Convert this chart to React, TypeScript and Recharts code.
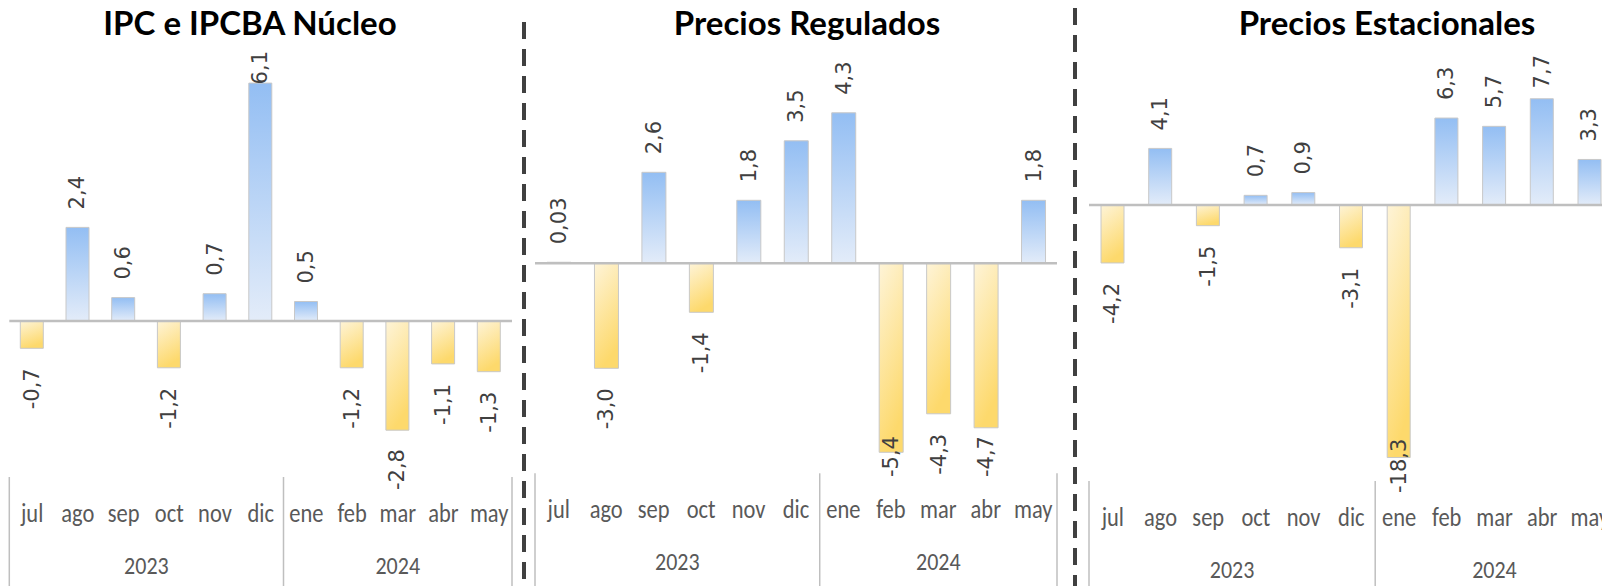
import { BarChart, Bar, XAxis, YAxis, Cell, LabelList, ReferenceLine } from "recharts";

const MONTHS = ["jul", "ago", "sep", "oct", "nov", "dic", "ene", "feb", "mar", "abr", "may"];
const YEARS = ["2023", "2023", "2023", "2023", "2023", "2023", "2024", "2024", "2024", "2024", "2024"];

const IPC_NUCLEO = [-0.7, 2.4, 0.6, -1.2, 0.7, 6.1, 0.5, -1.2, -2.8, -1.1, -1.3];
const REGULADOS = [0.03, -3.0, 2.6, -1.4, 1.8, 3.5, 4.3, -5.4, -4.3, -4.7, 1.8];
const ESTACIONALES = [-4.2, 4.1, -1.5, 0.7, 0.9, -3.1, -18.3, 6.3, 5.7, 7.7, 3.3];

const PANELS = [
  { id: "p1", title: "IPC e IPCBA Núcleo", values: IPC_NUCLEO, domain: [-4, 7], width: 530, left: 9.3, right: 512, top: 48, bottom: 477, barSize: 23, titleX: 250, labelTop: 51, labelBottom: 490 },
  { id: "p2", title: "Precios Regulados", values: REGULADOS, domain: [-6, 7], width: 1075, left: 535, right: 1057, top: 18.3, bottom: 473.3, barSize: 24, titleX: 807, labelTop: 20, labelBottom: 477 },
  { id: "p3", title: "Precios Estacionales", values: ESTACIONALES, domain: [-20, 14], width: 1640, left: 1089, right: 1613.7, top: 11.8, bottom: 481, barSize: 23, titleX: 1387, labelTop: 55, labelBottom: 493 },
];

const H = 586;
const LABEL_FONT = 21;
const AXIS_COLOR = "#595959";
const AXIS_FONT = "Carlito, Calibri, Lato, sans-serif";
const GRID = "#bfbfbf";

function fmt(v: number) {
  const s = String(v);
  const dec = s.includes(".") ? s.split(".")[1].length : 0;
  return v.toFixed(Math.max(1, dec)).replace(".", ",");
}

// rough DejaVu Sans advance widths, used to keep labels inside the plot
function textLen(s: string) {
  let w = 0;
  for (const c of s) w += c === "," ? 0.318 : c === "-" ? 0.361 : 0.636;
  return w * LABEL_FONT;
}

function ValueLabel(props: any) {
  const { panel } = props;
  const vb = props.viewBox && props.viewBox.width != null ? props.viewBox : props;
  const x = Number(vb.x), y = Number(vb.y), w = Number(vb.width), h = Number(vb.height);
  const v = Number(props.value);
  const text = fmt(v);
  const len = textLen(text);
  const cx = x + w / 2;
  const top = Math.min(y, y + h);
  const bot = Math.max(y, y + h);
  let ay: number;
  let anchor: "start" | "end";
  if (v >= 0) {
    ay = top - 18;
    if (ay - len < panel.labelTop) ay = panel.labelTop + len;
    anchor = "start";
  } else {
    ay = bot + 20;
    if (ay + len > panel.labelBottom) ay = panel.labelBottom - len;
    anchor = "end";
  }
  return (
    <text
      x={cx}
      y={ay}
      transform={`rotate(-90, ${cx}, ${ay})`}
      textAnchor={anchor}
      dominantBaseline="central"
      fontFamily="'DejaVu Sans', Verdana, sans-serif"
      fontSize={LABEL_FONT}
      fill="#404040"
    >
      {text}
    </text>
  );
}

function MonthTick(props: any) {
  const { x, y, payload, index, panel } = props;
  const n = MONTHS.length;
  const step = (panel.right - panel.left) / n;
  const year = YEARS[index];
  const first = index === 0 || YEARS[index - 1] !== year;
  let groupLen = 0;
  for (const yy of YEARS) if (yy === year) groupLen++;
  const yearX = x - step / 2 + (groupLen * step) / 2;
  return (
    <g>
      <text transform={`translate(${x}, ${y + 45}) scale(1, 1.18)`} textAnchor="middle" fontFamily={AXIS_FONT} fontSize={22.5} fill={AXIS_COLOR}>
        {payload.value}
      </text>
      {first && (
        <>
          <line x1={x - step / 2} x2={x - step / 2} y1={y} y2={H} stroke={GRID} strokeWidth={1.5} />
          <text transform={`translate(${yearX}, ${y + 97}) scale(1, 1.1)`} textAnchor="middle" fontFamily={AXIS_FONT} fontSize={22} fill={AXIS_COLOR}>
            {year}
          </text>
        </>
      )}
      {index === n - 1 && <line x1={x + step / 2} x2={x + step / 2} y1={y} y2={H} stroke={GRID} strokeWidth={1.5} />}
    </g>
  );
}

function Panel({ panel }: { panel: any }) {
  const data = MONTHS.map((m, i) => ({ month: m, year: YEARS[i], value: panel.values[i] }));
  return (
    <div style={{ position: "absolute", left: 0, top: 0 }}>
      <BarChart
        width={panel.width}
        height={H}
        data={data}
        margin={{ top: panel.top, left: panel.left, right: panel.width - panel.right, bottom: 0 }}
      >
        <defs>
          <linearGradient id={`${panel.id}-pos`} x1="0" y1="0" x2="0" y2="1">
            <stop offset="0%" stopColor="#93bef3" />
            <stop offset="100%" stopColor="#e3ecf9" />
          </linearGradient>
          <linearGradient id={`${panel.id}-neg`} x1="0" y1="0" x2="0.3" y2="1">
            <stop offset="0%" stopColor="#fef4d8" />
            <stop offset="100%" stopColor="#fdd96c" />
          </linearGradient>
        </defs>
        <XAxis
          dataKey="month"
          height={H - panel.bottom}
          axisLine={false}
          tickLine={false}
          tickSize={0}
          tickMargin={0}
          interval={0}
          tick={<MonthTick panel={panel} />}
        />
        <YAxis hide domain={panel.domain} allowDataOverflow />
        <Bar dataKey="value" barSize={panel.barSize} stroke="#c8c8c8" strokeWidth={1} isAnimationActive={false}>
          {data.map((d, i) => (
            <Cell key={i} fill={d.value >= 0 ? `url(#${panel.id}-pos)` : `url(#${panel.id}-neg)`} />
          ))}
          <LabelList dataKey="value" content={(p: any) => <ValueLabel {...p} panel={panel} />} />
        </Bar>
        <ReferenceLine y={0} stroke={GRID} strokeWidth={2.5} />
      </BarChart>
    </div>
  );
}

export default function App() {
  return (
    <div style={{ position: "fixed", left: 0, top: 0, width: 1602, height: H, overflow: "hidden", background: "#fff" }}>
      {PANELS.map((p) => (
        <Panel key={p.id} panel={p} />
      ))}
      <svg width={1602} height={H} style={{ position: "absolute", left: 0, top: 0, pointerEvents: "none" }}>
        {PANELS.map((p) => (
          <text key={p.id} x={p.titleX} y={35} textAnchor="middle" fontFamily="Lato, 'Noto Sans', sans-serif" fontWeight={700} fontSize={33} fill="#000">
            {p.title}
          </text>
        ))}
        <line x1={524} x2={524} y1={22} y2={H} stroke="#404040" strokeWidth={4} strokeDasharray="17 10" />
        <line x1={1075} x2={1075} y1={8} y2={H} stroke="#404040" strokeWidth={4} strokeDasharray="17 10" />
      </svg>
    </div>
  );
}
